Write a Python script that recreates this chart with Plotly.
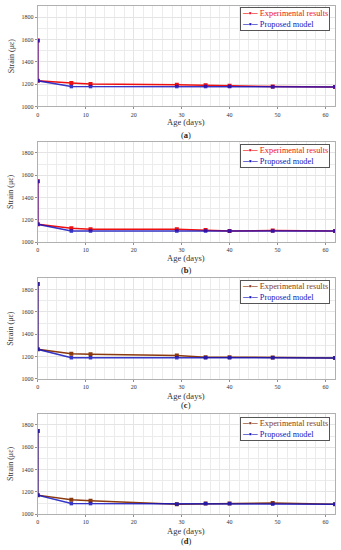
import plotly.graph_objects as go

# ---- data ----
age = [0, 0, 7, 11, 29, 35, 40, 49, 62]

exp_a = [1590, 1230, 1210, 1200, 1195, 1190, 1185, 1178, 1175]
model_a = [1590, 1230, 1178, 1178, 1178, 1178, 1178, 1175, 1175]

exp_b = [1545, 1160, 1125, 1115, 1115, 1110, 1100, 1105, 1100]
model_b = [1545, 1160, 1100, 1100, 1100, 1100, 1100, 1100, 1100]

exp_c = [1850, 1265, 1225, 1220, 1210, 1195, 1195, 1192, 1188]
model_c = [1850, 1265, 1190, 1190, 1190, 1190, 1190, 1190, 1188]

exp_d = [1745, 1170, 1130, 1120, 1090, 1095, 1095, 1100, 1090]
model_d = [1745, 1170, 1095, 1095, 1090, 1095, 1095, 1090, 1090]

panel_labels = ["a", "b", "c", "d"]
series_names = ["Experimental results", "Proposed model"]
exp_colors = ["#ee1111", "#ee1111", "#8b3a0f", "#8b3a0f"]
model_color = "#1414c0"
y_ticks = [1000, 1200, 1400, 1600, 1800]
x_ticks = [0, 10, 20, 30, 40, 50, 60]

W, H = 341, 550
FONT = "Liberation Serif"

def py(px):
    return 1 - px / H

# pixel layout of panels (top, bottom)
panels_px = [(6, 107), (142.5, 243.5), (280, 381), (416, 517)]
xtitle_px = [123, 259, 398, 533.5]
caption_px = [136, 271.5, 407.5, 543.5]
legend_top_px = [7, 144.3, 281.7, 419]

fig = go.Figure()
exps = [exp_a, exp_b, exp_c, exp_d]
models = [model_a, model_b, model_c, model_d]

annotations = []
for i in range(4):
    sfx = "" if i == 0 else str(i + 1)
    fig.add_trace(go.Scatter(
        x=age, y=exps[i], mode="lines+markers", name=series_names[0],
        line=dict(color=exp_colors[i], width=1.5),
        marker=dict(symbol="square", size=4, color=exp_colors[i]),
        xaxis="x" + sfx, yaxis="y" + sfx, showlegend=False,
    ))
    fig.add_trace(go.Scatter(
        x=age, y=models[i], mode="lines+markers", name=series_names[1],
        line=dict(color=model_color, width=1.5),
        marker=dict(symbol="square", size=3.5, color=model_color),
        opacity=0.85,
        xaxis="x" + sfx, yaxis="y" + sfx, showlegend=False,
    ))
    top, bot = panels_px[i]
    axis_common = dict(
        showline=True, linecolor="#b0b0b0", linewidth=1, mirror=True,
        gridcolor="#e4e4e4", gridwidth=1, zeroline=False,
        ticks="outside", ticklen=2, tickcolor="#909090",
        tickfont=dict(family=FONT, size=6, color="#333333"),
    )
    fig.update_layout(**{
        "xaxis" + sfx: dict(
            domain=[36 / W, 335 / W], range=[0, 62], anchor="y" + sfx,
            tickvals=x_ticks,
            minor=dict(dtick=2, showgrid=True, gridcolor="#ececec", gridwidth=1),
            **axis_common,
        ),
        "yaxis" + sfx: dict(
            domain=[py(bot), py(top)], range=[1000, 1900], anchor="x" + sfx,
            tickvals=y_ticks,
            minor=dict(dtick=100, showgrid=True, gridcolor="#ececec", gridwidth=1),
            **axis_common,
        ),
    })
    # legend box (one per panel)
    legend_text = (
        f"<span style='color:{exp_colors[i]}'>─▪─ {series_names[0]}</span><br>"
        f"<span style='color:{model_color}'>─▪─ {series_names[1]}</span>"
    )
    annotations.append(dict(
        text=legend_text, x=330 / W, y=py(legend_top_px[i]),
        xref="paper", yref="paper", showarrow=False, align="left",
        xanchor="right", yanchor="top",
        bgcolor="white", bordercolor="#555555", borderwidth=1, borderpad=1,
        font=dict(family=FONT, size=8.3),
    ))
    annotations.append(dict(
        text="Age (days)", x=(36 + 335) / 2 / W, y=py(xtitle_px[i]),
        xref="paper", yref="paper", showarrow=False,
        font=dict(family=FONT, size=8.5, color="#333333"),
        xanchor="center", yanchor="middle",
    ))
    annotations.append(dict(
        text=f"(<b>{panel_labels[i]}</b>)", x=(36 + 335) / 2 / W, y=py(caption_px[i]),
        xref="paper", yref="paper", showarrow=False,
        font=dict(family=FONT, size=8.5, color="#222222"),
        xanchor="center", yanchor="middle",
    ))
    annotations.append(dict(
        text="Strain (με)", x=9 / W, y=py((top + bot) / 2),
        xref="paper", yref="paper", showarrow=False, textangle=-90,
        font=dict(family=FONT, size=8, color="#333333"),
        xanchor="center", yanchor="middle",
    ))

fig.update_layout(
    width=W, height=H,
    margin=dict(l=0, r=0, t=0, b=0),
    paper_bgcolor="white", plot_bgcolor="white",
    annotations=annotations,
    showlegend=False,
)

fig.write_html("out.html", config={"displayModeBar": False},
               post_script="document.body.style.margin='0';")
